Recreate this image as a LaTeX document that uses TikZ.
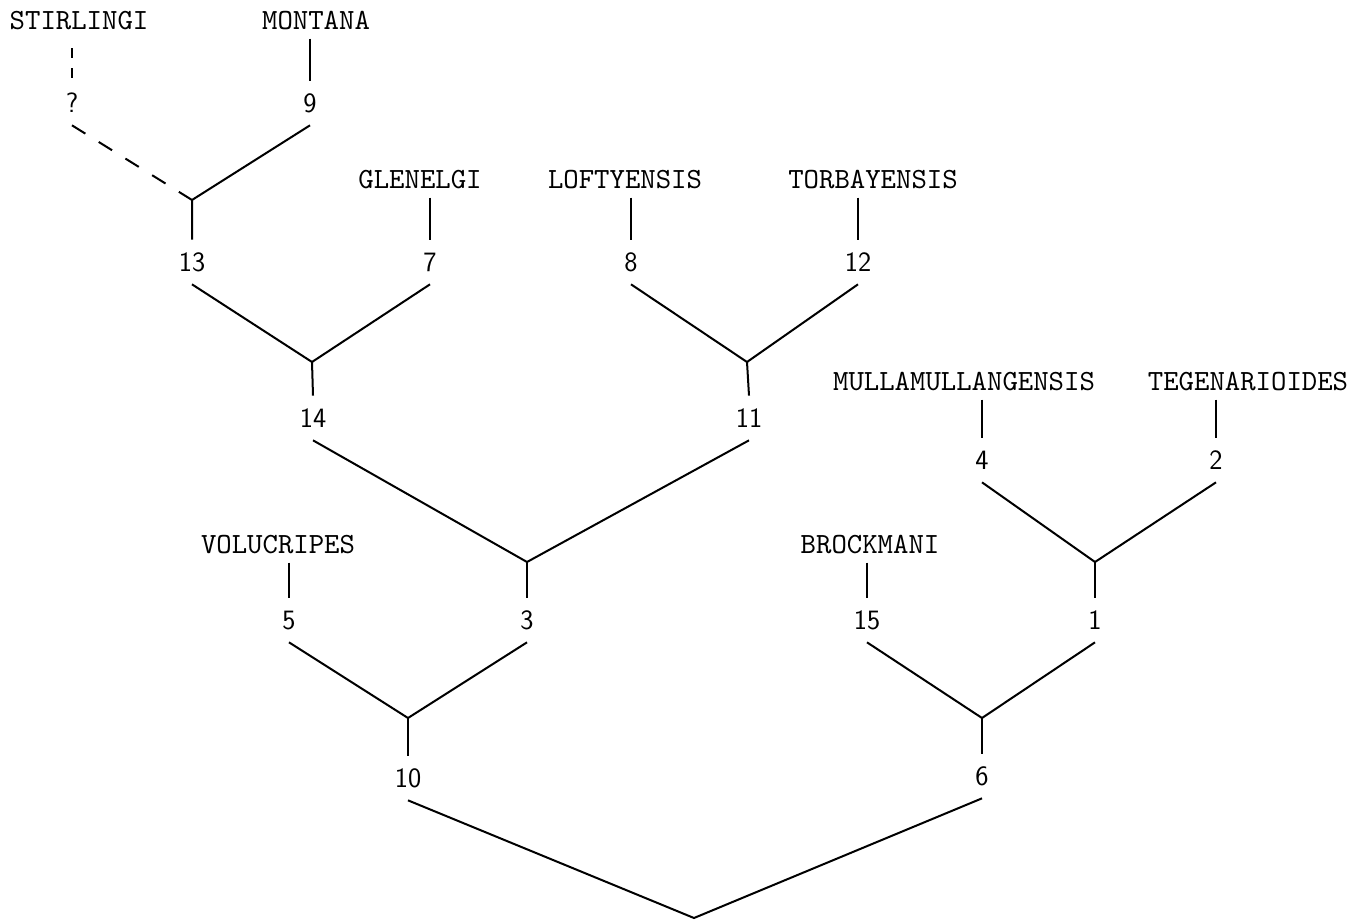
\documentclass[tikz,border=0pt]{standalone}
\usepackage{fontspec}
\newfontfamily\taxonfont{lmmono10-regular.otf}
\usepackage{tikz}

\begin{document}
\begin{tikzpicture}[x=0.75pt,y=-0.75pt,line width=1.5pt,
  taxon/.style={inner sep=0pt,inner ysep=6pt,text height=11.6pt,text depth=0pt,
    font=\fontsize{22}{24}\taxonfont},
  num/.style={inner sep=0pt,inner ysep=9pt,text height=14pt,text depth=0pt,
    font=\fontsize{21}{22}\sffamily},
  guess/.style={dash pattern=on 11.8pt off 11.8pt}]
  \useasboundingbox (0,0) rectangle (1355,920);

  % species
  \node[taxon] (stirlingi) at (79,22)    {STIRLINGI};
  \node[taxon] (montana)   at (316,22)   {MONTANA};
  \node[taxon] (glenelgi)  at (420,181)  {GLENELGI};
  \node[taxon] (loftyensis) at (625,181) {LOFTYENSIS};
  \node[taxon] (torbayensis) at (873,181) {TORBAYENSIS};
  \node[taxon] (mullamullangensis) at (964,383) {MULLAMULLANGENSIS};
  \node[taxon] (tegenarioides) at (1248,383) {TEGENARIOIDES};
  \node[taxon] (volucripes) at (278,546) {VOLUCRIPES};
  \node[taxon] (brockmani) at (870,546)  {BROCKMANI};

  % numbered points
  \node[num] (nq)  at (72,103)   {?};
  \node[num] (n9)  at (310,103)  {9};
  \node[num] (n13) at (192,262)  {13};
  \node[num] (n7)  at (430,262)  {7};
  \node[num] (n8)  at (631,262)  {8};
  \node[num] (n12) at (858,262)  {12};
  \node[num] (n14) at (313,418)  {14};
  \node[num] (n11) at (749,418)  {11};
  \node[num] (n4)  at (982,460)  {4};
  \node[num] (n2)  at (1216,460) {2};
  \node[num] (n5)  at (289,620)  {5};
  \node[num] (n3)  at (527,620)  {3};
  \node[num] (n15) at (867,620)  {15};
  \node[num] (n1)  at (1095,620) {1};
  \node[num] (n10) at (408,778)  {10};
  \node[num] (n6)  at (982,776)  {6};

  % forks
  \coordinate (j13)  at (192,200);
  \coordinate (j14)  at (312,362);
  \coordinate (j11)  at (747,362);
  \coordinate (j3)   at (527,562);
  \coordinate (j1)   at (1095,562);
  \coordinate (j10)  at (408,718);
  \coordinate (j6)   at (982,718);
  \coordinate (root) at (694,918);

  % stems below the species
  \draw[dash pattern=on 7.5pt off 7.5pt,shorten <=7pt] (nq |- stirlingi.south) -- (nq.north);
  \draw (n9 |- montana.south) -- (n9.north);
  \draw (n7 |- glenelgi.south) -- (n7.north);
  \draw (n8 |- loftyensis.south) -- (n8.north);
  \draw (n12 |- torbayensis.south) -- (n12.north);
  \draw (n4 |- mullamullangensis.south) -- (n4.north);
  \draw (n2 |- tegenarioides.south) -- (n2.north);
  \draw (n5 |- volucripes.south) -- (n5.north);
  \draw (n15 |- brockmani.south) -- (n15.north);

  % tree
  \draw[guess] (nq.south) -- (j13);
  \draw (n9.south) -- (j13) -- (n13.north);
  \draw (n13.south) -- (j14) -- (n7.south);
  \draw (j14) -- (n14.north);
  \draw (n8.south) -- (j11) -- (n12.south);
  \draw (j11) -- (n11.north);
  \draw (n14.south) -- (j3) -- (n11.south);
  \draw (j3) -- (n3.north);
  \draw (n4.south) -- (j1) -- (n2.south);
  \draw (j1) -- (n1.north);
  \draw (n5.south) -- (j10) -- (n3.south);
  \draw (j10) -- (n10.north);
  \draw (n15.south) -- (j6) -- (n1.south);
  \draw (j6) -- (n6.north);
  \draw (n10.south) -- (root) -- (n6.south);
\end{tikzpicture}
\end{document}
